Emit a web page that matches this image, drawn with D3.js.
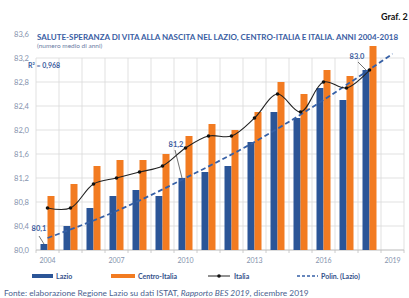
<!DOCTYPE html>
<html>
<head>
<meta charset="utf-8">
<script src="https://cdn.jsdelivr.net/npm/d3@7"></script>
<style>
  body { margin: 0; background: #fff; }
  svg { display: block; font-family: Lato, 'Open Sans', sans-serif; }
</style>
</head>
<body>
<svg id="chart" width="409" height="298"></svg>
<script>
const years = [2004, 2005, 2006, 2007, 2008, 2009, 2010, 2011, 2012, 2013, 2014, 2015, 2016, 2017, 2018];
const lazio = [80.1, 80.4, 80.7, 80.9, 81.0, 80.9, 81.2, 81.3, 81.4, 81.8, 82.3, 82.2, 82.7, 82.5, 83.0];
const centroItalia = [80.9, 81.1, 81.4, 81.5, 81.5, 81.6, 81.9, 82.1, 82.0, 82.3, 82.8, 82.6, 83.0, 82.9, 83.4];
const italia = [80.7, 80.7, 81.1, 81.2, 81.3, 81.4, 81.7, 81.9, 81.9, 82.2, 82.6, 82.3, 82.8, 82.7, 83.0];
// polynomial trend (Lazio)
const trendYears = [2004, 2007, 2010, 2013, 2016, 2019];
const trendValues = [80.2, 80.65, 81.2, 81.8, 82.5, 83.27];
const yTicks = [80.0, 80.4, 80.8, 81.2, 81.6, 82.0, 82.4, 82.8, 83.2, 83.6];
const xTicks = [2004, 2007, 2010, 2013, 2016, 2019];

const blue = '#2b5597';
const orange = '#f27b21';
const gridColor = '#d9d9d9';
const labelColor = '#8592ad';
const darkBlue = '#34508a';

const svg = d3.select('#chart');
const x = d3.scaleLinear().domain([2003.5, 2019.5]).range([36, 404]);
const y = d3.scaleLinear().domain([80, 83.6]).range([250, 34]);
const comma = (v) => d3.format('.1f')(v).replace('.', ',');
const bw = 7;

// grid
const grid = svg.append('g');
grid.selectAll('.hgrid')
  .data(yTicks.filter((t) => t <= 83.2))
  .join('line')
  .attr('class', 'hgrid')
  .attr('x1', x(2003.5)).attr('x2', x(2019.5))
  .attr('y1', (d) => y(d)).attr('y2', (d) => y(d))
  .attr('stroke', gridColor).attr('stroke-width', 0.8);
grid.selectAll('.vgrid')
  .data(d3.range(2003.5, 2020, 1))
  .join('line')
  .attr('class', 'vgrid')
  .attr('x1', (d) => x(d)).attr('x2', (d) => x(d))
  .attr('y1', y(80)).attr('y2', y(83.2))
  .attr('stroke', gridColor).attr('stroke-width', 0.8);

// axis base + small ticks
grid.append('line')
  .attr('x1', x(2003.5)).attr('x2', x(2019.5))
  .attr('y1', y(80)).attr('y2', y(80))
  .attr('stroke', '#bfbfbf').attr('stroke-width', 0.8);
grid.selectAll('.xtick')
  .data(d3.range(2003.5, 2020, 1))
  .join('line')
  .attr('class', 'xtick')
  .attr('x1', (d) => x(d)).attr('x2', (d) => x(d))
  .attr('y1', y(80)).attr('y2', y(80) + 3)
  .attr('stroke', '#bfbfbf').attr('stroke-width', 0.8);

// y labels
svg.append('g').selectAll('text')
  .data(yTicks)
  .join('text')
  .attr('x', 29).attr('y', (d) => y(d) + 3)
  .attr('text-anchor', 'end')
  .attr('font-size', 7.6)
  .attr('fill', labelColor)
  .text(comma);

// x labels
svg.append('g').selectAll('text')
  .data(xTicks)
  .join('text')
  .attr('x', (d) => x(d)).attr('y', 263)
  .attr('text-anchor', 'middle')
  .attr('font-size', 7)
  .attr('fill', labelColor)
  .text((d) => d);

// bars
svg.append('g').selectAll('rect')
  .data(years)
  .join('rect')
  .attr('x', (d) => x(d) - bw)
  .attr('width', bw)
  .attr('y', (d, i) => y(lazio[i]))
  .attr('height', (d, i) => y(80) - y(lazio[i]))
  .attr('fill', blue);
svg.append('g').selectAll('rect')
  .data(years)
  .join('rect')
  .attr('x', (d) => x(d))
  .attr('width', bw)
  .attr('y', (d, i) => y(centroItalia[i]))
  .attr('height', (d, i) => y(80) - y(centroItalia[i]))
  .attr('fill', orange);

// trend
svg.append('path')
  .datum(trendYears.map((d, i) => [d, trendValues[i]]))
  .attr('d', d3.line().x((d) => x(d[0])).y((d) => y(d[1])).curve(d3.curveNatural))
  .attr('fill', 'none')
  .attr('stroke', '#3660a6')
  .attr('stroke-width', 1.8)
  .attr('stroke-dasharray', '5,3');

// italia line
const italiaPts = years.map((d, i) => [d, italia[i]]);
svg.append('path')
  .datum(italiaPts)
  .attr('d', d3.line().x((d) => x(d[0])).y((d) => y(d[1])).curve(d3.curveCatmullRom.alpha(0.5)))
  .attr('fill', 'none')
  .attr('stroke', '#222')
  .attr('stroke-width', 1.1);
svg.append('g').selectAll('circle')
  .data(italiaPts)
  .join('circle')
  .attr('cx', (d) => x(d[0])).attr('cy', (d) => y(d[1]))
  .attr('r', 1.8)
  .attr('fill', '#111');

// data labels for Lazio (offsets relative to the bar top)
const notes = [
  { year: 2004, text: '80,1', dx: -5, dy: -13, lx: -5, ly: -8 },
  { year: 2010, text: '81,2', dx: -6, dy: -31, lx: -7, ly: -28 },
  { year: 2018, text: '83.0', dx: -9, dy: -11, lx: -8, ly: -8 },
];
const noteG = svg.append('g');
notes.forEach((n) => {
  const v = lazio[years.indexOf(n.year)];
  const bx = x(n.year) - bw / 2;
  const by = y(v);
  noteG.append('line')
    .attr('x1', bx + n.lx).attr('y1', by + n.ly)
    .attr('x2', bx).attr('y2', by)
    .attr('stroke', '#333').attr('stroke-width', 0.7);
  noteG.append('text')
    .attr('x', bx + n.dx).attr('y', by + n.dy)
    .attr('text-anchor', 'middle')
    .attr('font-size', 7.5).attr('font-weight', 'bold')
    .attr('fill', '#3d5d9e')
    .text(n.text);
});

svg.append('text')
  .attr('x', 28).attr('y', 68)
  .attr('font-size', 7).attr('font-weight', 'bold')
  .attr('fill', '#3d5d9e')
  .text('R² = 0,968');

// title block
svg.append('text')
  .attr('x', 37).attr('y', 40)
  .attr('font-size', 7.4).attr('font-weight', 'bold')
  .attr('fill', '#3a5ea3')
  .attr('textLength', 361).attr('lengthAdjust', 'spacingAndGlyphs')
  .text('SALUTE-SPERANZA DI VITA ALLA NASCITA NEL LAZIO, CENTRO-ITALIA E ITALIA. ANNI 2004-2018');
svg.append('text')
  .attr('x', 37).attr('y', 48)
  .attr('font-size', 6.5)
  .attr('fill', '#6a7ca3')
  .text('(numero medio di anni)');
svg.append('text')
  .attr('x', 381).attr('y', 20)
  .attr('font-size', 9).attr('font-weight', 'bold')
  .attr('fill', '#111')
  .text('Graf. 2');

// legend
const leg = svg.append('g').attr('font-size', 7).attr('font-weight', 'bold').attr('fill', darkBlue);
leg.append('rect').attr('x', 32).attr('y', 274).attr('width', 21).attr('height', 4).attr('fill', blue);
leg.append('text').attr('x', 56).attr('y', 279).text('Lazio');
leg.append('rect').attr('x', 111).attr('y', 274).attr('width', 24).attr('height', 4).attr('fill', orange);
leg.append('text').attr('x', 138).attr('y', 279).text('Centro-Italia');
leg.append('line').attr('x1', 208).attr('x2', 230).attr('y1', 276).attr('y2', 276).attr('stroke', '#222').attr('stroke-width', 1);
leg.append('circle').attr('cx', 219).attr('cy', 276).attr('r', 1.8).attr('fill', '#111');
leg.append('text').attr('x', 234).attr('y', 279).text('Italia');
leg.append('line').attr('x1', 297).attr('x2', 318).attr('y1', 276).attr('y2', 276).attr('stroke', '#3660a6').attr('stroke-width', 1.6).attr('stroke-dasharray', '3,2');
leg.append('text').attr('x', 321).attr('y', 279).text('Polin. (Lazio)');

// source
const src = svg.append('text')
  .attr('x', 4).attr('y', 296)
  .attr('font-size', 8.3)
  .attr('fill', '#4a5f8f');
src.append('tspan').text('Fonte: elaborazione Regione Lazio su dati ISTAT, ');
src.append('tspan').attr('font-style', 'italic').text('Rapporto BES 2019');
src.append('tspan').text(', dicembre 2019');
</script>
</body>
</html>
